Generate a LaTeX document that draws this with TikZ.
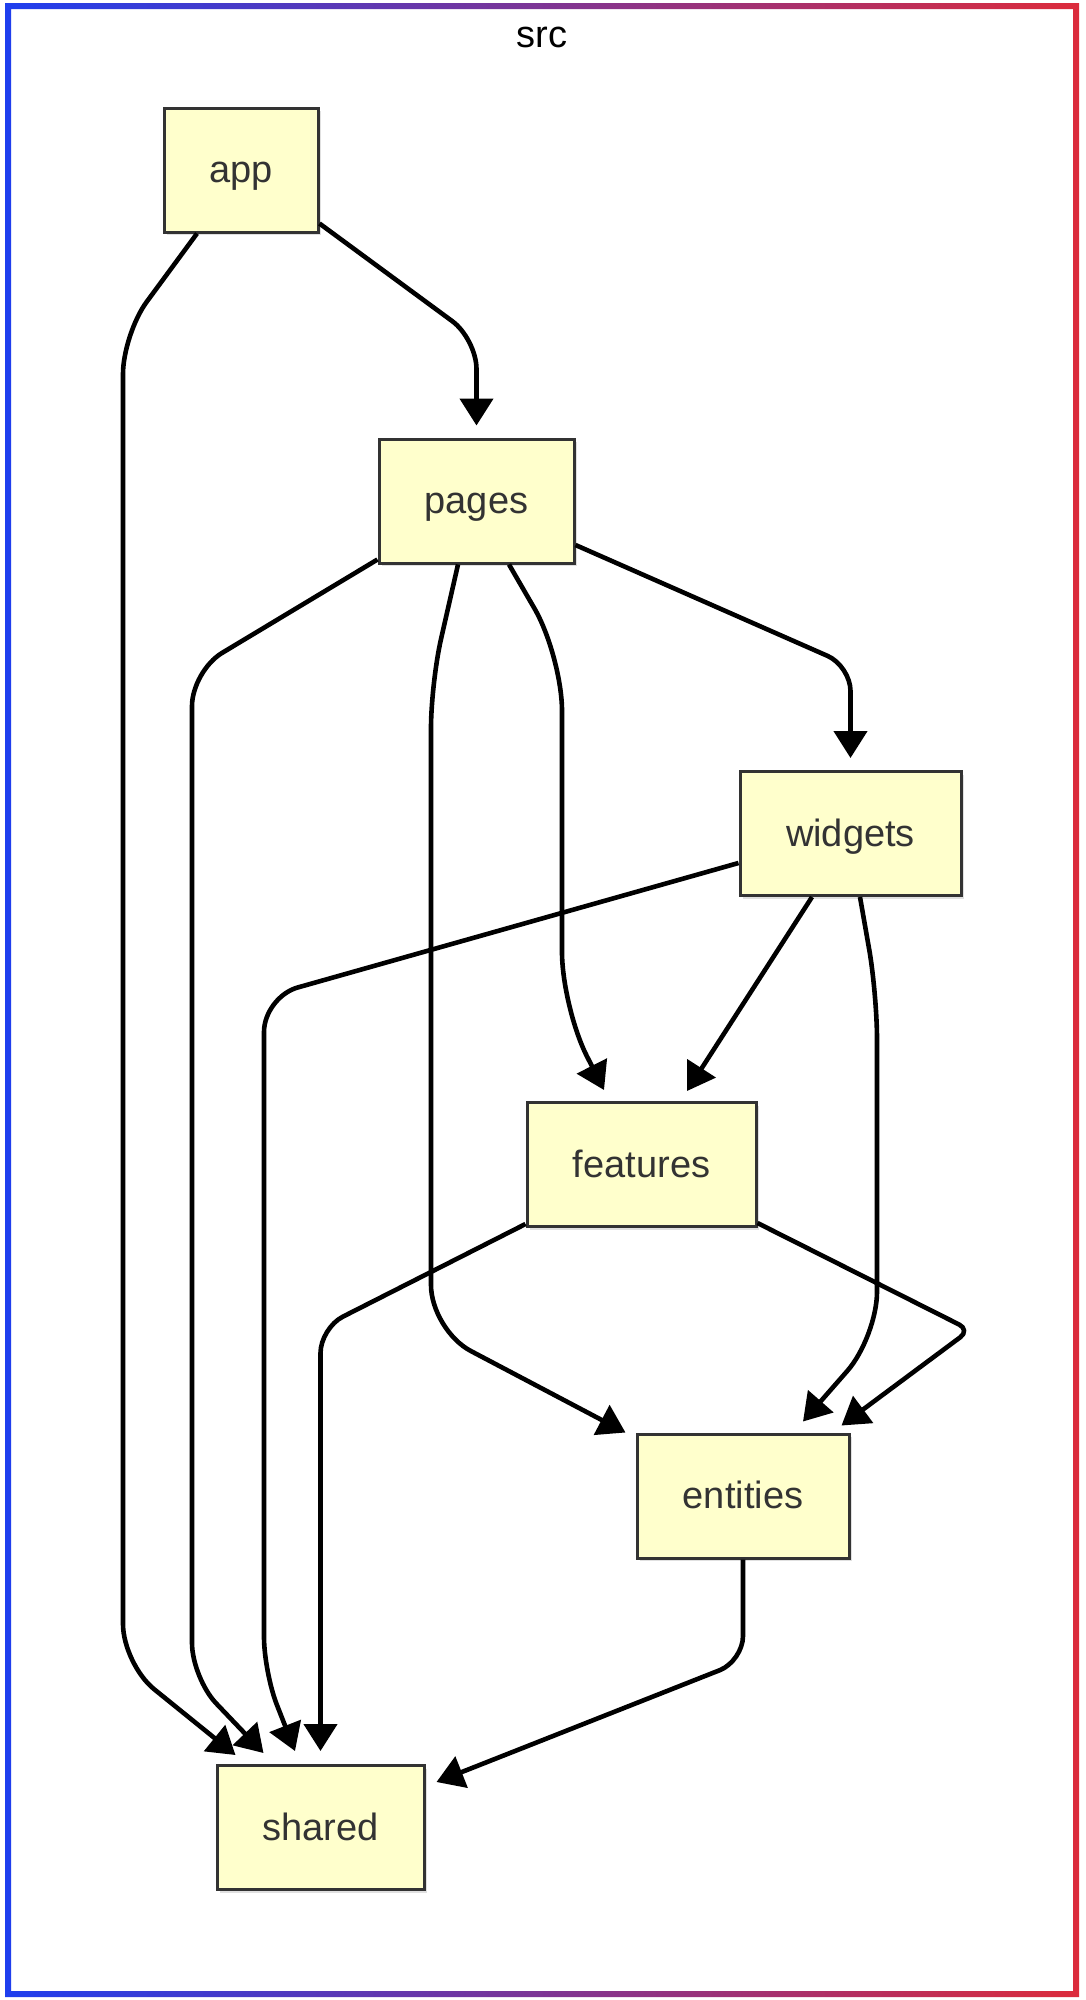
\documentclass[tikz,border=0pt]{standalone}
\usepackage{fontspec}
\setmainfont{Liberation Sans}
\usetikzlibrary{arrows.meta,calc,shadows}
\definecolor{nodefill}{HTML}{FFFFCC}
\definecolor{nodeborder}{HTML}{333333}
\definecolor{txtcol}{HTML}{333333}
\definecolor{bblue}{HTML}{1E3EEE}
\definecolor{bred}{HTML}{DC2B3B}
\begin{document}
\begin{tikzpicture}[x=1pt,y=-1pt,
  box/.style={draw=nodeborder, line width=3pt, fill=nodefill, text=txtcol,
    inner sep=0pt, minimum height=124pt, text height=25.2pt, text depth=0pt,
    font=\fontsize{38}{44}\selectfont,
    drop shadow={shadow xshift=3pt, shadow yshift=-3pt, opacity=0.12, fill=black}},
  edge/.style={draw=black, line width=4.6pt, line join=round,
    -{Triangle[length=27pt,width=33pt]}}]
\useasboundingbox (0,0) rectangle (1086,2000);
\fill[white] (0,0) rectangle (1086,2000);
% gradient frame
\shade[left color=bblue, right color=bred, even odd rule]
  (5,3) rectangle (1079,1997) (11,9) rectangle (1073,1991);
\node[anchor=base, font=\fontsize{38}{44}\selectfont, text=black] (title) at (542,47) {src};

% nodes
\node[box, minimum width=154pt] (app) at (241,170) {app};
\node[box, minimum width=195pt] (pages) at (476.5,501) {pages};
\node[box, minimum width=221pt] (widgets) at (850.5,833.5) {widgets};
\node[box, minimum width=229pt] (features) at (641.5,1164.5) {features};
\node[box, minimum width=212pt] (entities) at (743,1496) {entities};
\node[box, minimum width=207pt] (shared) at (320.5,1827.5) {shared};

% edges
\draw[edge, rounded corners=30pt] ($(app.south east)+(0,-10)$) -- (476.5,339) -- ($(pages.north)+(0,-12)$);
\draw[edge, rounded corners=40pt] ($(app.south)+(-44,0)$) -- (123,334) -- (123,1664) -- ($(shared.north west)+(20,-9)$);
\draw[edge, rounded corners=35pt] ($(pages.south west)+(0,-5)$) -- (192,671) -- (192,1678) -- ($(shared.north west)+(48,-11)$);
\draw[edge, rounded corners=45pt] ($(pages.south)+(-18.5,0)$) -- (431,683) -- (431,1330) -- ($(entities.north west)+(-10,0)$);
\draw[edge, rounded corners=55pt] ($(pages.south)+(32.5,0)$) -- (562,656) -- (562,1007) -- ($(features.north)+(-37.5,-11)$);
\draw[edge, rounded corners=25pt] ($(pages.east)+(0,44)$) -- (850.5,666) -- ($(widgets.north)+(0,-12)$);
\draw[edge, rounded corners=35pt] ($(widgets.west)+(0,29.5)$) -- (264,997) -- (264,1672) -- ($(shared.north)+(-25.5,-13)$);
\draw[edge] ($(widgets.south)+(-38.5,0)$) -- ($(features.north)+(45.5,-10)$);
\draw[edge, rounded corners=45pt] ($(widgets.south)+(9.5,0)$) -- (877,994) -- (877,1337) -- ($(entities.north)+(60,-11)$);
\draw[edge, rounded corners=25pt] ($(features.south west)+(0,-4)$) -- (320.5,1328) -- ($(shared.north)+(0,-13)$);
\draw[edge, rounded corners=12pt] ($(features.south east)+(0,-5)$) -- (970,1330) -- ($(entities.north east)+(-9,-7)$);
\draw[edge, rounded corners=25pt] (entities.south) -- (743,1661) -- ($(shared.east)+(11,-45.5)$);
\end{tikzpicture}
\end{document}
